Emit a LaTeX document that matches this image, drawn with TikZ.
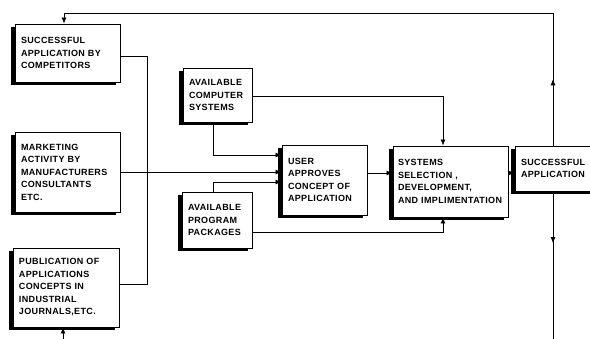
\documentclass[tikz,border=0pt]{standalone}
\usepackage{fontspec}
\newfontfamily\boxfont[LetterSpace=4]{Liberation Sans}
\usetikzlibrary{arrows.meta,shadows,decorations.markings}
\tikzset{
  blk/.style={draw, line width=0.9pt, fill=white, inner xsep=6pt, inner ysep=3pt,
    align=left, font=\boxfont\bfseries\fontsize{9}{12.5}\selectfont,
    drop shadow={shadow xshift=-4pt, shadow yshift=-3.5pt, fill=black, opacity=1}},
  conn/.style={line width=0.7pt},
  tip/.style={-{Latex[length=6pt,width=5pt]}},
  midarrow/.style={postaction={decorate},
    decoration={markings, mark=at position #1 with {\arrow{Latex[length=6pt,width=5pt]}}}},
}
\begin{document}
\begin{tikzpicture}[x=1pt,y=-1pt]
\useasboundingbox (0,0) rectangle (590,339);
\clip (0,0) rectangle (590,339);
\fill[white] (0,0) rectangle (590,339);

\node[blk, text width=93pt, minimum height=58pt] (A) at (67.5,53)
  {SUCCESSFUL\\APPLICATION BY\\COMPETITORS};
\node[blk, text width=93pt, minimum height=80pt] (B) at (67.5,172)
  {MARKETING\\ACTIVITY BY\\MANUFACTURERS\\CONSULTANTS\\ETC.};
\node[blk, text width=94pt, minimum height=79pt] (C) at (66,287.5)
  {PUBLICATION OF\\APPLICATIONS\\CONCEPTS IN\\INDUSTRIAL\\JOURNALS,ETC.};
\node[blk, text width=57pt, minimum height=54pt] (D) at (217.5,95)
  {AVAILABLE\\COMPUTER\\SYSTEMS};
\node[blk, text width=58pt, minimum height=56pt] (E) at (217,220)
  {AVAILABLE\\PROGRAM\\PACKAGES};
\node[blk, text width=73pt, minimum height=70pt] (U) at (324.5,180)
  {USER\\APPROVES\\CONCEPT OF\\APPLICATION};
\node[blk, text width=105pt, minimum height=71pt, inner xsep=5pt] (S) at (450.5,181.5)
  {SYSTEMS\\SELECTION ,\\DEVELOPMENT,\\AND IMPLIMENTATION};
\node[blk, text width=83pt, minimum height=45pt] (SA) at (562.5,168.5)
  {SUCCESSFUL\\APPLICATION};

% left collector
\coordinate (j1) at (147,56);
\coordinate (j2) at (147,284);
\draw[conn] (A.east |- j1) -- (j1) -- (j2) -- (C.east |- j2);
\draw[conn,tip] (B.east) -- (B.east -| U.west);

% computer systems
\coordinate (du) at (213,155);
\draw[conn,tip] (D.south -| du) -- (du) -- (du -| U.west);
\coordinate (ds) at (443,96);
\draw[conn,tip] (D.east |- ds) -- (ds) -- (ds |- S.north);

% program packages
\coordinate (eu) at (213,182);
\draw[conn,tip] (E.north -| eu) -- (eu) -- (eu -| U.west);
\coordinate (es) at (443,232);
\draw[conn,tip] (E.east |- es) -- (es) -- (es |- S.south);

% main chain
\coordinate (us) at (0,173);
\draw[conn,tip] (U.east |- us) -- (S.west |- us);
\draw[conn,tip] (S.east |- us) -- (SA.west |- us);

% feedback to top
\coordinate (tr) at (553,13);
\coordinate (tl) at (64,13);
\draw[conn,midarrow=0.5] (SA.north -| tr) -- (tr);
\draw[conn,tip] (tr) -- (tl) -- (tl |- A.north);

% down exit
\coordinate (br) at (553,339);
\draw[conn,midarrow=0.35] (SA.south -| br) -- (br);

% input to publication
\coordinate (bl) at (63,339);
\draw[conn,tip] (bl) -- (bl |- C.south);
\end{tikzpicture}
\end{document}
